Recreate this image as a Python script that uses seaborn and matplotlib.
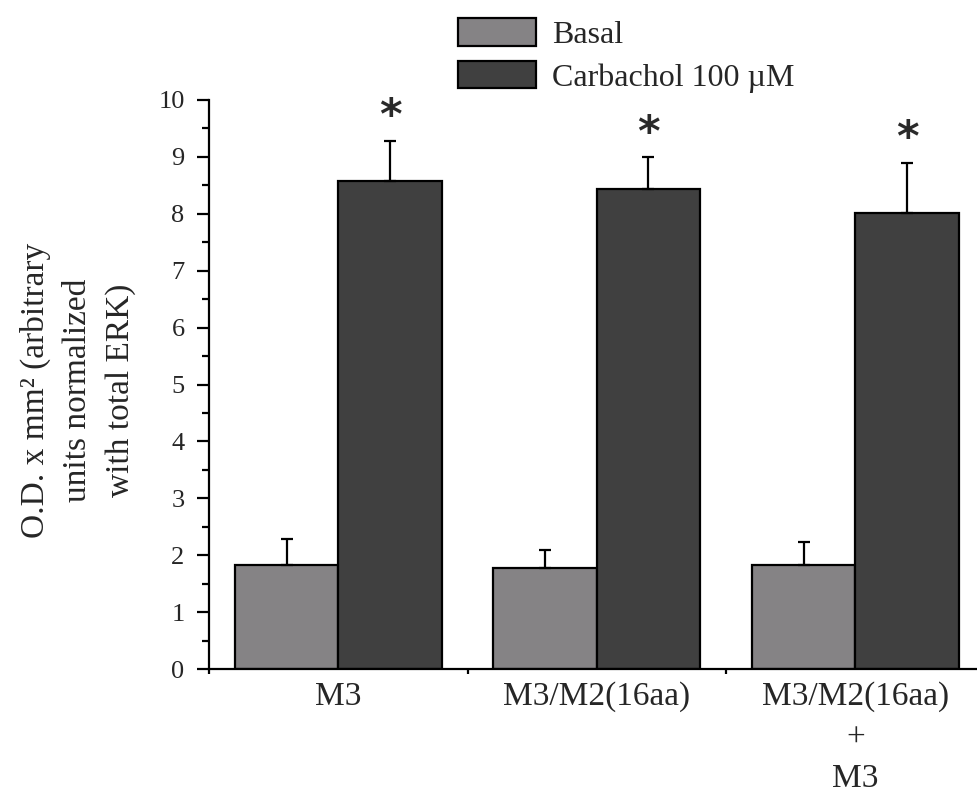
import matplotlib
matplotlib.use("Agg")
import matplotlib.pyplot as plt
import seaborn as sns
import pandas as pd
import numpy as np
from matplotlib.ticker import MultipleLocator, FixedLocator

# Group labels, conditions and measured values (mean and SEM)
groups = ["M3", "M3/M2(16aa)", "M3/M2(16aa)\n+\nM3"]
conditions = ["Basal", "Carbachol 100 \u00b5M"]
basal_mean = [1.82, 1.78, 1.82]
basal_sem = [0.47, 0.32, 0.42]
carbachol_mean = [8.58, 8.44, 8.01]
carbachol_sem = [0.70, 0.55, 0.89]
significant = [True, True, True]

colors = ["#858385", "#404040"]

sns.set_theme(style="ticks")
plt.rcParams["font.family"] = ["Liberation Serif", "DejaVu Serif"]

df = pd.DataFrame({
    "group": groups * 2,
    "condition": [conditions[0]] * 3 + [conditions[1]] * 3,
    "value": basal_mean + carbachol_mean,
    "sem": basal_sem + carbachol_sem,
})

fig = plt.figure(figsize=(9.77, 7.94), dpi=100)
ax = fig.add_axes([209 / 977, 125 / 794, 775.5 / 977, 569 / 794])

sns.barplot(data=df, x="group", y="value", hue="condition", order=groups,
            hue_order=conditions, palette=colors, edgecolor="black",
            linewidth=1.6, errorbar=None, width=0.8, gap=0, ax=ax,
            saturation=1)

# Upper-only error bars and significance marks, placed on the drawn bars
for cond, container in zip(conditions, ax.containers):
    sub = df[df["condition"] == cond].set_index("group").loc[groups]
    for bar, (_, row), sig in zip(container, sub.iterrows(), significant):
        xc = bar.get_x() + bar.get_width() / 2
        top = bar.get_height()
        ax.errorbar(xc, top, yerr=[[0], [row["sem"]]], fmt="none",
                    ecolor="black", elinewidth=1.6, capsize=4.5,
                    capthick=1.6, zorder=1)
        if cond == conditions[1] and sig:
            ax.text(xc, top + row["sem"] + 0.42, "*", ha="center",
                    va="center", fontsize=31, fontweight="bold",
                    family="DejaVu Sans", color="#2a2a2a")

ax.set_xlim(-0.5, 2.5)
ax.set_ylim(0, 10)
ax.yaxis.set_major_locator(MultipleLocator(1))
ax.yaxis.set_minor_locator(MultipleLocator(0.5))
ax.xaxis.set_minor_locator(FixedLocator([-0.5, 0.5, 1.5, 2.5]))
ax.tick_params(axis="y", which="major", length=8.6, width=1.6,
               labelsize=19, pad=9, color="black")
ax.tick_params(axis="y", which="minor", length=5, width=1.6, color="black")
ax.tick_params(axis="x", which="major", length=0, labelsize=24, pad=9)
ax.tick_params(axis="x", which="minor", length=3.6, width=1.6, color="black")
for lab in ax.get_xticklabels():
    lab.set_linespacing(1.45)

sns.despine(ax=ax)
for s in ("left", "bottom"):
    ax.spines[s].set_linewidth(1.6)
    ax.spines[s].set_color("black")

ax.set_xlabel("")
ax.set_ylabel("")
fig.text(78 / 977, 1 - 390 / 794,
         "O.D. x mm\u00b2 (arbitrary\nunits normalized\nwith total ERK)",
         rotation=90, ha="center", va="center", multialignment="center",
         fontsize=24, linespacing=1.5)

handles, labels = ax.get_legend_handles_labels()
ax.get_legend().remove()
fig.legend(handles, labels, loc="upper left",
           bbox_to_anchor=(458 / 977, 1 - 18 / 794), frameon=False,
           borderpad=0, borderaxespad=0, handlelength=2.45,
           handleheight=0.95, handletextpad=0.5, labelspacing=0.35,
           fontsize=23)

fig.savefig("out.png", dpi=100)
